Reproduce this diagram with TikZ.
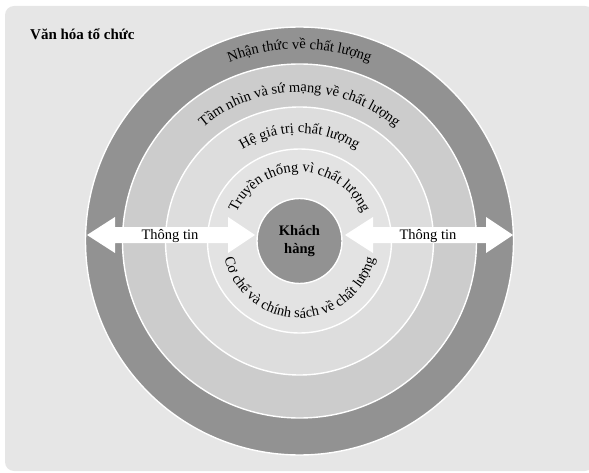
\documentclass[tikz,border=0pt]{standalone}
\usepackage{fontspec}
\setmainfont{Liberation Serif}
\usetikzlibrary{decorations.text,calc}
\definecolor{bgc}{RGB}{230,230,230}
\definecolor{ringdark}{RGB}{146,146,146}
\definecolor{ringmid}{RGB}{204,204,204}
\definecolor{ringlight}{RGB}{221,221,221}
\definecolor{ringinner}{RGB}{227,227,227}
\newcommand\ringfont{\fontsize{14.5}{17}\selectfont}
\begin{document}
\begin{tikzpicture}[x=1pt,y=1pt,
  ring/.style={circle, draw=white, line width=1.4pt, inner sep=0pt},
  arcs/.style={decorate, decoration={text along path, text align=center, text={|\ringfont|#1}}},
  info/.style={font=\fontsize{14.5}{17}\selectfont, inner sep=0pt},
  infoarrow/.style={fill=white}]
\useasboundingbox (0,0) rectangle (589,472);
\fill[bgc, rounded corners=9pt] (5,1) rectangle (594,466);
\coordinate (C) at (299.5,231);
\node[ring, fill=ringdark, minimum size=428pt] (r1) at (C) {};
\node[ring, fill=ringmid, minimum size=354pt] (r2) at (C) {};
\node[ring, fill=ringlight, minimum size=268pt] (r3) at (C) {};
\node[ring, fill=ringinner, minimum size=184pt] (r4) at (C) {};
% curved labels
\path[arcs={Nhận thức về chất lượng}] ($(C)+(180:192)$) arc[start angle=180, end angle=0, radius=192];
\path[arcs={Tầm nhìn và sứ mạng về chất lượng}] ($(C)+(180:149)$) arc[start angle=180, end angle=0, radius=149];
\path[arcs={Hệ giá trị chất lượng}] ($(C)+(180:108)$) arc[start angle=180, end angle=0, radius=108];
\path[arcs={Truyền thống vì chất lượng}] ($(C)+(180:69)$) arc[start angle=180, end angle=0, radius=69];
\path[arcs={Cơ chế và chính sách về chất lượng}] ($(C)+(180:77)$) arc[start angle=180, end angle=360, radius=77];
% information arrows
\coordinate (la) at (87,237);
\coordinate (lb) at (255,237);
\coordinate (ra) at (345,237);
\coordinate (rb) at (513,237);
\fill[infoarrow] (la) -- ++(28,18) -- ++(0,-10) -- ($(lb)+(-27,8)$) -- ++(0,10) -- (lb)
  -- ++(-27,-18) -- ++(0,10) -- ($(la)+(28,-8)$) -- ++(0,-10) -- cycle;
\fill[infoarrow] (ra) -- ++(28,18) -- ++(0,-10) -- ($(rb)+(-27,8)$) -- ++(0,10) -- (rb)
  -- ++(-27,-18) -- ++(0,10) -- ($(ra)+(28,-8)$) -- ++(0,-10) -- cycle;
\node[info, anchor=base] (t1) at (170,233) {Thông tin};
\node[info, anchor=base] (t2) at (428,233) {Thông tin};
% centre
\node[ring, fill=ringdark, minimum size=85pt, align=center,
  font=\bfseries\fontsize{14.5}{18}\selectfont] (kh) at (C) {Khách\\hàng};
% title
\node[font=\bfseries\fontsize{15}{18}\selectfont, anchor=base west, inner sep=0pt] (title) at (30,432) {Văn hóa tổ chức};
\end{tikzpicture}
\end{document}
